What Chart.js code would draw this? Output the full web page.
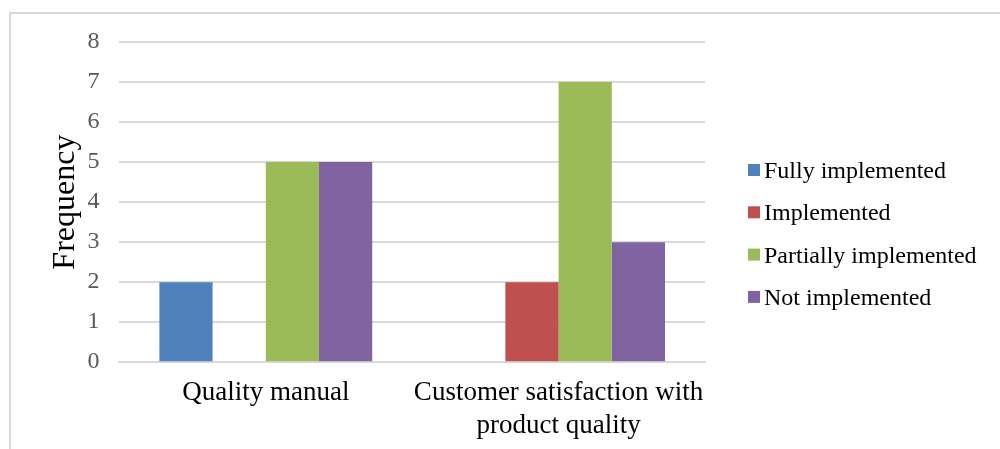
<!DOCTYPE html>
<html>
<head>
<meta charset="utf-8">
<script src="https://cdn.jsdelivr.net/npm/chart.js@4.4.1/dist/chart.umd.min.js"></script>
<style>
  html, body { margin: 0; padding: 0; background: #fff; }
  #frame { position: absolute; left: 9px; top: 12px; width: 1000px; height: 460px; border: 2px solid #d9d9d9; box-sizing: border-box; }
  #wrap { position: absolute; left: 0; top: 0; width: 1000px; height: 449px; }
</style>
</head>
<body>
<div id="frame"></div>
<div id="wrap"><canvas id="c" width="1000" height="449"></canvas></div>
<script>
const categories = ['Quality manual', ['Customer satisfaction with', 'product quality']];
const seriesNames = ['Fully implemented', 'Implemented', 'Partially implemented', 'Not implemented'];
const fullyImplemented = [2, 0];
const implemented = [0, 2];
const partiallyImplemented = [5, 7];
const notImplemented = [5, 3];
const yTicks = [0, 1, 2, 3, 4, 5, 6, 7, 8];
const colors = ['#4f81bd', '#c0504d', '#9bbb59', '#8064a2'];

const serif = "'Liberation Serif', 'Times New Roman', serif";
const values = [fullyImplemented, implemented, partiallyImplemented, notImplemented];

// Legend on the right: square swatch followed closely by the series name.
const sideLegend = {
  id: 'sideLegend',
  afterDraw(chart, args, opts) {
    const { ctx, chartArea } = chart;
    ctx.save();
    ctx.font = `${opts.fontSize}px ${serif}`;
    ctx.textBaseline = 'alphabetic';
    ctx.textAlign = 'left';
    chart.data.datasets.forEach((ds, i) => {
      const cy = chartArea.top + opts.firstOffset + i * opts.step;
      const x = chartArea.right + opts.gap;
      ctx.fillStyle = ds.backgroundColor;
      ctx.fillRect(x, cy - opts.box / 2, opts.box, opts.box);
      ctx.fillStyle = opts.color;
      ctx.fillText(ds.label, x + opts.box + opts.textGap, cy + opts.fontSize * 0.33);
    });
    ctx.restore();
  }
};

new Chart(document.getElementById('c'), {
  type: 'bar',
  data: {
    labels: categories,
    datasets: seriesNames.map((name, i) => ({
      label: name,
      data: values[i],
      backgroundColor: colors[i],
      borderWidth: 0,
      barPercentage: 1,
      categoryPercentage: 0.727
    }))
  },
  options: {
    responsive: false,
    animation: false,
    layout: { padding: { left: 46, right: 295, top: 42, bottom: 0 } },
    plugins: {
      tooltip: { enabled: false },
      legend: { display: false },
      sideLegend: { fontSize: 24, color: '#000', box: 12, gap: 43, textGap: 4, firstOffset: 128, step: 42.3 }
    },
    scales: {
      x: {
        grid: { display: false },
        border: { display: true, color: '#d9d9d9', width: 2 },
        ticks: { font: { family: serif, size: 27 }, color: '#000', padding: 7, maxRotation: 0 }
      },
      y: {
        min: 0,
        max: 8,
        afterBuildTicks: axis => { axis.ticks = yTicks.map(v => ({ value: v })); },
        grid: { color: '#d9d9d9', lineWidth: 2, drawTicks: true, tickLength: 20, tickColor: 'rgba(0,0,0,0)' },
        border: { display: false },
        ticks: { font: { family: serif, size: 24 }, color: '#595959', padding: 0 },
        title: { display: true, text: 'Frequency', font: { family: serif, size: 32 }, color: '#000', padding: { top: 0, bottom: 3 } }
      }
    }
  },
  plugins: [sideLegend]
});
</script>
</body>
</html>
